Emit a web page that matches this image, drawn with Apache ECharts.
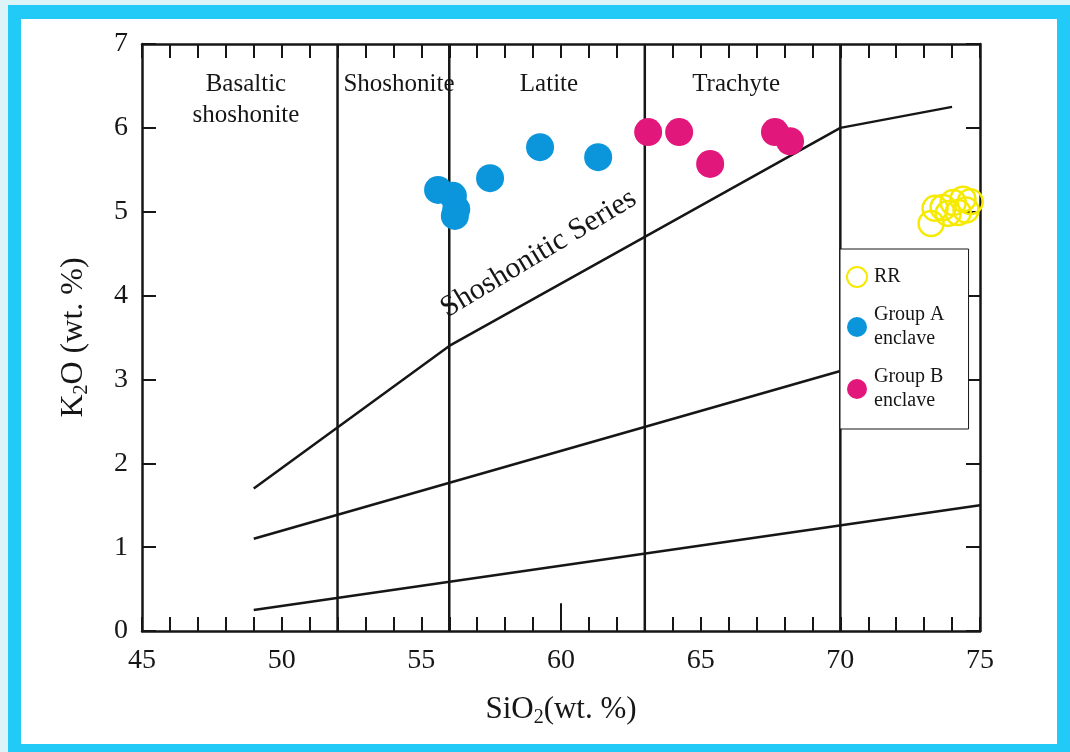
<!DOCTYPE html>
<html>
<head>
<meta charset="utf-8">
<script src="https://cdn.jsdelivr.net/npm/echarts@6/dist/echarts.min.js"></script>
<style>
  html, body { margin: 0; padding: 0; background: #dcf3f8; }
  #cyan { position: absolute; left: 8px; top: 5px; width: 1062px; height: 747px; background: #22cbf7; }
  #white { position: absolute; left: 21px; top: 19px; width: 1036px; height: 725px; background: #ffffff; }
  #chart { position: absolute; left: 0; top: 0; width: 1070px; height: 752px; }
</style>
</head>
<body>
<div id="cyan"></div>
<div id="white"></div>
<div id="chart"></div>
<script>
// ---- data ----
const groupA = [[55.6, 5.26], [56.13, 5.19], [56.25, 5.03], [56.2, 4.95], [57.46, 5.40], [59.25, 5.77], [61.33, 5.65]];
const groupB = [[63.12, 5.95], [64.23, 5.95], [65.34, 5.57], [67.66, 5.95], [68.2, 5.84]];
const rr = [[73.25, 4.86], [73.39, 5.04], [73.68, 5.05], [73.86, 4.98], [74.04, 5.11], [74.22, 4.99], [74.39, 5.15], [74.5, 5.02], [74.65, 5.12]];

// boundary lines
const upperLine = [[49, 1.7], [56, 3.4], [70, 6.0], [74, 6.25]];
const middleLine = [[49, 1.1], [70, 3.1]];
const lowerLine = [[49, 0.25], [75, 1.5]];
const fieldX = [52, 56, 63, 70];
const tickMark60 = [[60, 0], [60, 0.33]];

// region labels
const regionNames = ['Basaltic\nshoshonite', 'Shoshonite', 'Latite', 'Trachyte'];
const regionX = [48.72, 54.2, 59.57, 66.27];
const regionY = [6.33, 6.52, 6.52, 6.52];
const seriesLabel = { text: 'Shoshonitic Series', x: 59.2, y: 4.5 };

const xTicks = [45, 50, 55, 60, 65, 70, 75];
const yTicks = [0, 1, 2, 3, 4, 5, 6, 7];

const FONT = 'Liberation Serif';
const INK = '#161616';

const chart = echarts.init(document.getElementById('chart'), null, { renderer: 'canvas' });

const lineStyle = { color: INK, width: 2.5 };
const boundarySeries = [upperLine, middleLine, lowerLine].map(d => ({
  type: 'line', data: d, symbol: 'none', silent: true, lineStyle, z: 2
}));
const fieldSeries = fieldX.map(x => ({
  type: 'line', data: [[x, yTicks[0]], [x, yTicks[yTicks.length - 1]]], symbol: 'none', silent: true, lineStyle, z: 2
}));

const axisCommon = {
  min: xTicks[0], max: xTicks[xTicks.length - 1], interval: 5,
  axisLine: { show: true, onZero: false, lineStyle: { color: INK, width: 2.5 } },
  axisTick: { show: true, inside: true, length: 14, lineStyle: { color: INK, width: 2 } },
  minorTick: { show: true, splitNumber: 5, length: 14, lineStyle: { color: INK, width: 2 } },
  splitLine: { show: false }
};
const yCommon = {
  type: 'value', min: yTicks[0], max: yTicks[yTicks.length - 1], interval: 1,
  axisLine: { show: true, onZero: false, lineStyle: { color: INK, width: 2.5 } },
  axisTick: { show: true, inside: true, length: 14, lineStyle: { color: INK, width: 2 } },
  splitLine: { show: false }
};

chart.setOption({
  animation: false,
  grid: { left: 142, right: 90, top: 44, bottom: 121, containLabel: false },
  xAxis: [
    Object.assign({}, axisCommon, {
      type: 'value', position: 'bottom',
      name: '{a|SiO}{s|2}{a|(wt. %)}', nameLocation: 'middle', nameGap: 61,
      nameTextStyle: { rich: {
        a: { fontFamily: FONT, fontSize: 31, color: INK },
        s: { fontFamily: FONT, fontSize: 20, color: INK, padding: [16, 0, 0, 0] }
      } },
      axisLabel: { fontFamily: FONT, fontSize: 28, color: INK, margin: 16 }
    }),
    Object.assign({}, axisCommon, { type: 'value', position: 'top', axisLabel: { show: false } })
  ],
  yAxis: [
    Object.assign({}, yCommon, {
      position: 'left',
      name: '{a|K}{s|2}{a|O (wt. %)}', nameLocation: 'middle', nameGap: 50, nameRotate: 90,
      nameTextStyle: { rich: {
        a: { fontFamily: FONT, fontSize: 32, color: INK },
        s: { fontFamily: FONT, fontSize: 20, color: INK, padding: [16, 0, 0, 0] }
      } },
      axisLabel: { fontFamily: FONT, fontSize: 28, color: INK, margin: 14 }
    }),
    Object.assign({}, yCommon, { position: 'right', axisLabel: { show: false } })
  ],
  legend: {
    orient: 'vertical', left: 840, top: 249, width: 110,
    padding: [16, 24, 16, 6], itemGap: 14, itemWidth: 20, itemHeight: 20,
    backgroundColor: '#ffffff', borderColor: INK, borderWidth: 1,
    data: ['RR', 'Group A enclave', 'Group B enclave'],
    formatter: n => n.replace(' enclave', '\nenclave'),
    textStyle: { fontFamily: FONT, fontSize: 20, lineHeight: 24, color: INK, padding: [0, 0, 0, 2] }
  },
  series: [
    ...boundarySeries,
    ...fieldSeries,
    { type: 'line', data: tickMark60, symbol: 'none', silent: true, lineStyle: { color: INK, width: 2 }, z: 2 },
    {
      type: 'scatter', symbolSize: 0, silent: true, z: 3, itemStyle: { opacity: 1 },
      data: regionNames.map((n, i) => ({ name: n, value: [regionX[i], regionY[i]] })),
      label: { show: true, position: 'inside', formatter: p => p.name, fontFamily: FONT, fontSize: 25, lineHeight: 31, color: INK }
    },
    {
      type: 'scatter', symbolSize: 0, silent: true, z: 3, itemStyle: { opacity: 1 },
      data: [{ name: seriesLabel.text, value: [seriesLabel.x, seriesLabel.y] }],
      label: { show: true, position: 'inside', rotate: 31, formatter: p => p.name, fontFamily: FONT, fontSize: 30, color: INK }
    },
    {
      name: 'Group A enclave', type: 'scatter', data: groupA, symbol: 'circle', symbolSize: 28, z: 5,
      itemStyle: { color: '#0b96dc', opacity: 1 }
    },
    {
      name: 'Group B enclave', type: 'scatter', data: groupB, symbol: 'circle', symbolSize: 28, z: 5,
      itemStyle: { color: '#e2177c', opacity: 1 }
    },
    {
      name: 'RR', type: 'scatter', data: rr, symbol: 'circle', symbolSize: 25, z: 5,
      itemStyle: { color: 'rgba(255,255,255,0)', borderColor: '#f6ea00', borderWidth: 2.5, opacity: 1 }
    }
  ]
});
</script>
</body>
</html>
